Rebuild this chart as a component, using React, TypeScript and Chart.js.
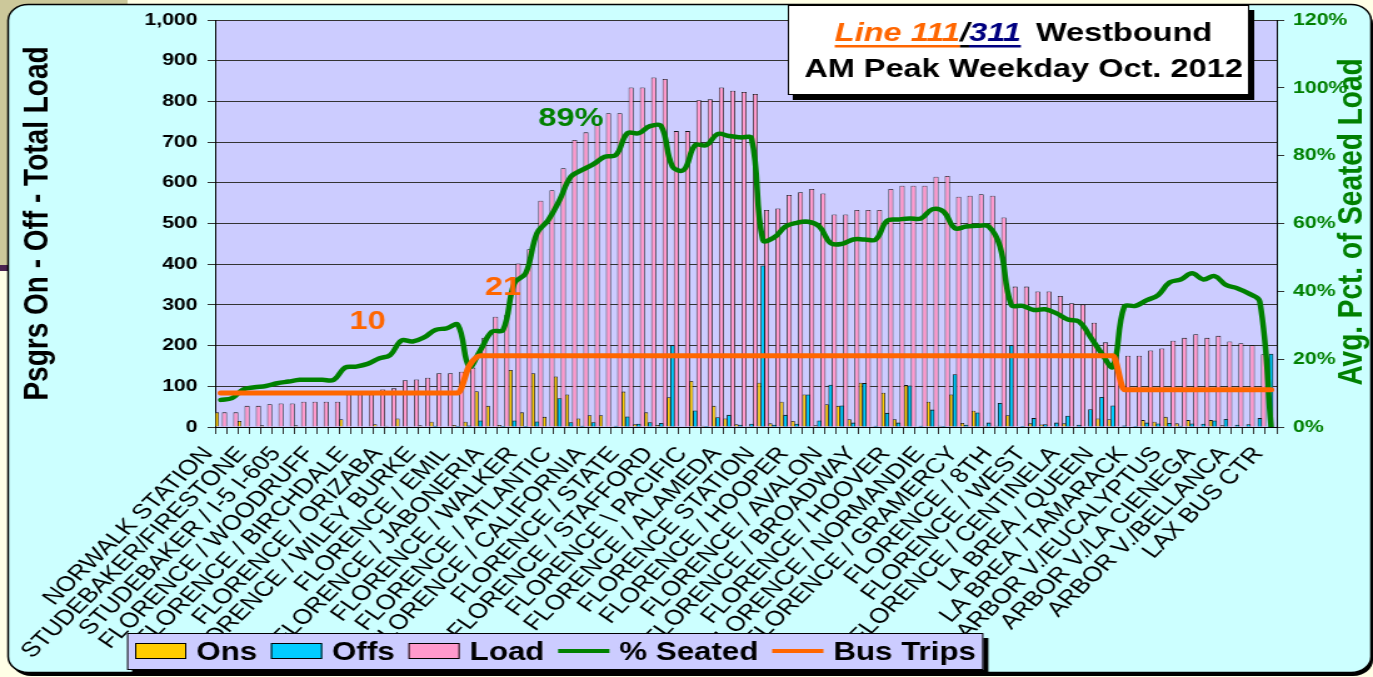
import React, { useEffect, useRef } from 'react';
import { Chart, registerables } from 'chart.js';

Chart.register(...registerables);

// ---------- DATA ----------
const stops = [
  'NORWALK STATION', '', '', 'STUDEBAKER/FIRESTONE', '', '', 'STUDEBAKER / I-5 I-605', '', '',
  'FLORENCE / WOODRUFF', '', '', 'FLORENCE / BIRCHDALE', '', '', 'FLORENCE / ORIZABA', '', '',
  'FLORENCE / WILEY BURKE', '', '', 'FLORENCE / EMIL', '', '', 'FLORENCE / JABONERIA', '', '',
  'FLORENCE / WALKER', '', '', 'FLORENCE / ATLANTIC', '', '', 'FLORENCE / CALIFORNIA', '', '',
  'FLORENCE / STATE', '', '', 'FLORENCE / STAFFORD', '', '', 'FLORENCE \\ PACIFIC', '', '',
  'FLORENCE / ALAMEDA', '', '', 'FLORENCE STATION', '', '', 'FLORENCE / HOOPER', '', '',
  'FLORENCE / AVALON', '', '', 'FLORENCE / BROADWAY', '', '', 'FLORENCE / HOOVER', '', '',
  'FLORENCE / NORMANDIE', '', '', 'FLORENCE / GRAMERCY', '', '', 'FLORENCE / 8TH', '', '',
  'FLORENCE / WEST', '', '', 'FLORENCE / CENTINELA', '', '', 'LA BREA / QUEEN', '', '',
  'LA BREA / TAMARACK', '', '', 'ARBOR V./EUCALYPTUS', '', '', 'ARBOR V./LA CIENEGA', '', '',
  'ARBOR V./BELLANCA', '', '', 'LAX BUS CTR',
];

const ons = [
  36, 0, 15, 0, 4, 2, 0, 4, 0, 0, 0, 19, 0, 0, 7, 3, 21, 2, 4, 13,
  0, 5, 13, 88, 52, 5, 140, 36, 132, 25, 124, 80, 21, 29, 29, 2, 87, 7, 36, 5,
  73, 0, 113, 3, 52, 21, 7, 2, 109, 9, 62, 15, 80, 4, 56, 52, 19, 109, 2, 84,
  19, 103, 2, 62, 3, 80, 10, 40, 3, 3, 29, 1, 9, 6, 0, 9, 2, 0, 21, 19,
  1, 1, 17, 13, 25, 9, 17, 0, 17, 4, 1, 1, 0, 0,
];

const offs = [
  0, 0, 0, 0, 0, 0, 0, 0, 0, 0, 0, 0, 0, 0, 0, 0, 0, 0, 0, 2,
  0, 1, 3, 15, 0, 1, 15, 1, 13, 0, 70, 11, 2, 11, 0, 2, 25, 7, 11, 9,
  200, 0, 40, 1, 23, 29, 5, 7, 396, 5, 29, 7, 79, 15, 103, 52, 10, 107, 2, 34,
  10, 101, 2, 42, 1, 129, 5, 35, 10, 58, 200, 1, 21, 6, 10, 27, 5, 43, 73, 52,
  3, 1, 10, 8, 9, 2, 8, 7, 15, 19, 5, 6, 21, 179,
];

const load = [
  36, 36, 52, 52, 56, 58, 58, 62, 62, 62, 62, 80, 80, 80, 92, 95, 115, 117, 121, 132,
  132, 136, 146, 219, 271, 275, 402, 437, 556, 582, 636, 705, 724, 742, 771, 771, 834, 834, 859, 855,
  727, 727, 803, 805, 834, 826, 823, 818, 533, 537, 570, 577, 585, 574, 522, 522, 533, 533, 533, 585,
  593, 593, 593, 615, 617, 566, 568, 572, 568, 515, 345, 345, 333, 333, 322, 304, 301, 256, 208, 177,
  175, 175, 188, 193, 212, 219, 228, 219, 224, 210, 206, 201, 179, 0,
];

const pctSeated = [
  8.0, 8.5, 11.1, 11.7, 12.1, 12.9, 13.4, 13.9, 13.9, 13.9, 13.9, 17.5, 17.8, 18.6, 20.2, 21.2, 25.5, 25.2, 26.4, 28.6,
  29.1, 30.1, 17.8, 22.7, 28.1, 28.6, 42.4, 45.3, 57.1, 61.0, 66.9, 73.8, 75.8, 77.5, 79.7, 80.2, 86.6, 86.6, 88.7, 88.7,
  76.8, 75.8, 83.1, 83.1, 86.4, 85.8, 85.4, 85.1, 55.1, 55.9, 59.1, 60.2, 60.5, 59.1, 54.2, 54.0, 55.3, 55.3, 55.3, 60.8,
  61.2, 61.5, 61.5, 64.2, 63.5, 58.6, 59.1, 59.3, 59.1, 53.2, 36.0, 35.7, 34.5, 34.7, 33.5, 31.7, 31.1, 26.6, 21.7, 17.8,
  35.5, 35.7, 37.4, 38.9, 42.6, 43.5, 45.3, 43.5, 44.5, 41.9, 40.9, 39.4, 37.0, 0,
];

const busTrips = [
  10, 10, 10, 10, 10, 10, 10, 10, 10, 10, 10, 10, 10, 10, 10, 10, 10, 10, 10, 10,
  10, 10, 18, 21, 21, 21, 21, 21, 21, 21, 21, 21, 21, 21, 21, 21, 21, 21, 21, 21,
  21, 21, 21, 21, 21, 21, 21, 21, 21, 21, 21, 21, 21, 21, 21, 21, 21, 21, 21, 21,
  21, 21, 21, 21, 21, 21, 21, 21, 21, 21, 21, 21, 21, 21, 21, 21, 21, 21, 21, 21,
  11, 11, 11, 11, 11, 11, 11, 11, 11, 11, 11, 11, 11, 11,
];

const seriesNames = ['Ons', 'Offs', 'Load', '% Seated', 'Bus Trips'];
const callouts = [
  { text: '10', index: 13, value: 31, color: '#FF6600' },
  { text: '21', index: 25, value: 41, color: '#FF6600' },
  { text: '89%', index: 31, value: 91, color: '#008000' },
];

// ---------- STYLE ----------
const FONT = "'Liberation Sans', Arial, Helvetica, sans-serif";
const CW = 1098; // internal canvas width (stretched to 1373 on screen)
const CH = 677;
const GREEN = '#008000';
const ORANGE = '#FF6600';

const backgroundPlugin = {
  id: 'slideBackground',
  beforeDraw(chart: any) {
    const { ctx, chartArea } = chart;
    ctx.save();
    ctx.fillStyle = '#FFFFE6';
    ctx.fillRect(0, 0, CW, CH);
    ctx.fillStyle = '#CCC89A';
    ctx.fillRect(0, 0, 102, 268);
    ctx.fillStyle = '#4A2350';
    ctx.fillRect(0, 265, 8, 6);
    ctx.beginPath();
    ctx.roundRect(9, 8, CW - 9, CH - 9, 16);
    ctx.fillStyle = '#000';
    ctx.fill();
    ctx.beginPath();
    ctx.roundRect(6.5, 4.5, CW - 8, CH - 9, 16);
    ctx.fillStyle = '#CCFFFF';
    ctx.fill();
    ctx.lineWidth = 1.5;
    ctx.strokeStyle = '#000';
    ctx.stroke();
    ctx.fillStyle = '#CCCCFF';
    ctx.fillRect(chartArea.left, chartArea.top, chartArea.right - chartArea.left, chartArea.bottom - chartArea.top);
    ctx.restore();
  },
};

const calloutPlugin = {
  id: 'callouts',
  afterDatasetsDraw(chart: any) {
    const { ctx } = chart;
    const xs = chart.scales.x;
    const ys = chart.scales.y1;
    ctx.save();
    ctx.font = `bold 26px ${FONT}`;
    ctx.textAlign = 'center';
    ctx.textBaseline = 'middle';
    callouts.forEach((c) => {
      ctx.fillStyle = c.color;
      ctx.fillText(c.text, xs.getPixelForValue(c.index), ys.getPixelForValue(c.value));
    });
    ctx.restore();
  },
};

const overlayPlugin = {
  id: 'overlay',
  afterDraw(chart: any) {
    const { ctx } = chart;
    ctx.save();
    // ---- title box ----
    const bx0 = 630, by0 = 5, bx1 = 999, by1 = 95;
    ctx.fillStyle = '#000';
    ctx.fillRect(bx0 + 4, by0 + 5, bx1 - bx0, by1 - by0);
    ctx.fillStyle = '#FFFFFF';
    ctx.fillRect(bx0, by0, bx1 - bx0, by1 - by0);
    ctx.strokeStyle = '#000';
    ctx.lineWidth = 1;
    ctx.strokeRect(bx0 + 0.5, by0 + 0.5, bx1 - bx0 - 1, by1 - by0 - 1);
    const cx = (bx0 + bx1) / 2 + 4;
    const it = `italic bold 26px ${FONT}`;
    const bd = `bold 26px ${FONT}`;
    const segs = [
      { t: 'Line 111', f: it, c: ORANGE, u: true, gap: 0 },
      { t: '/', f: it, c: '#000', u: true, gap: 0 },
      { t: '311', f: it, c: '#000080', u: true, gap: 12 },
      { t: 'Westbound', f: bd, c: '#000', u: false, gap: 0 },
    ];
    let total = 0;
    segs.forEach((s) => { ctx.font = s.f; total += ctx.measureText(s.t).width + s.gap; });
    let x = cx - total / 2;
    ctx.textBaseline = 'alphabetic';
    ctx.textAlign = 'left';
    segs.forEach((s) => {
      ctx.font = s.f;
      const w = ctx.measureText(s.t).width;
      ctx.fillStyle = s.c;
      ctx.fillText(s.t, x, 41);
      if (s.u) ctx.fillRect(x, 45, w, 2.5);
      x += w + s.gap;
    });
    ctx.font = bd;
    ctx.fillStyle = '#000';
    ctx.textAlign = 'center';
    ctx.fillText('AM Peak Weekday Oct. 2012', cx, 77);

    // ---- right axis title ----
    ctx.save();
    ctx.translate(1081, 222);
    ctx.rotate(-Math.PI / 2);
    ctx.font = `bold 28px ${FONT}`;
    ctx.fillStyle = GREEN;
    ctx.textAlign = 'center';
    ctx.textBaseline = 'middle';
    ctx.fillText('Avg. Pct. of Seated Load', 0, 0);
    ctx.restore();

    // ---- legend ----
    const lx0 = 101.6, ly0 = 633, ly1 = 670;
    const items = chart.data.datasets.map((d: any) => ({
      label: d.label,
      line: d.type === 'line',
      color: d.type === 'line' ? d.borderColor : d.backgroundColor,
    }));
    ctx.font = `bold 25px ${FONT}`;
    let lw = 6.4;
    items.forEach((i: any, k: number) => {
      lw += 41 + 8 + ctx.measureText(i.label).width + (k < items.length - 1 ? 11 : 6);
    });
    ctx.fillStyle = '#000';
    ctx.fillRect(lx0 + 4, ly0 + 5, lw, ly1 - ly0);
    ctx.fillStyle = '#CCCCFF';
    ctx.fillRect(lx0, ly0, lw, ly1 - ly0);
    ctx.strokeStyle = '#000';
    ctx.lineWidth = 1;
    ctx.strokeRect(lx0 + 0.5, ly0 + 0.5, lw - 1, ly1 - ly0 - 1);
    let px = lx0 + 6.4;
    ctx.textAlign = 'left';
    ctx.textBaseline = 'alphabetic';
    items.forEach((i: any) => {
      if (i.line) {
        ctx.strokeStyle = i.color;
        ctx.lineWidth = 4;
        ctx.beginPath();
        ctx.moveTo(px, 651);
        ctx.lineTo(px + 41, 651);
        ctx.stroke();
      } else {
        ctx.fillStyle = i.color;
        ctx.fillRect(px, 643, 41, 16);
        ctx.strokeStyle = '#000';
        ctx.lineWidth = 1;
        ctx.strokeRect(px + 0.5, 643.5, 40, 15);
      }
      px += 49;
      ctx.fillStyle = '#000';
      ctx.fillText(i.label, px, 660);
      px += ctx.measureText(i.label).width + 11;
    });
    ctx.restore();
  },
};

export default function App() {
  const ref = useRef<HTMLCanvasElement>(null);

  useEffect(() => {
    const canvas = ref.current;
    if (!canvas) return;
    Chart.defaults.font.family = FONT;
    const barBase = { borderColor: '#111', borderWidth: 0.8, categoryPercentage: 1.0, yAxisID: 'y' };
    const chart = new Chart(canvas, {
      type: 'bar',
      data: {
        labels: stops,
        datasets: [
          { ...barBase, label: seriesNames[0], data: ons, backgroundColor: '#FFCC00', barPercentage: 1.05, order: 1 } as any,
          { ...barBase, label: seriesNames[1], data: offs, backgroundColor: '#00CCFF', barPercentage: 1.0, order: 2 } as any,
          { ...barBase, label: seriesNames[2], data: load, backgroundColor: '#FF99CC', barPercentage: 1.35, order: 3 } as any,
          {
            type: 'line', label: seriesNames[3], data: pctSeated, yAxisID: 'y1',
            borderColor: GREEN, backgroundColor: GREEN, borderWidth: 4.5, pointRadius: 0,
            tension: 0.4, borderJoinStyle: 'round', borderCapStyle: 'round', order: 0,
          } as any,
          {
            type: 'line', label: seriesNames[4], data: busTrips, yAxisID: 'y1',
            borderColor: ORANGE, backgroundColor: ORANGE, borderWidth: 5, pointRadius: 0,
            cubicInterpolationMode: 'monotone', borderJoinStyle: 'round', borderCapStyle: 'round', order: -1,
          } as any,
        ],
      },
      options: {
        responsive: false,
        animation: false,
        devicePixelRatio: 1,
        layout: { padding: { top: 20, left: 0, right: 0, bottom: 0 } },
        plugins: { legend: { display: false }, tooltip: { enabled: false } },
        scales: {
          x: {
            offset: true,
            grid: { offset: true, drawOnChartArea: false, tickLength: 7, color: '#333' },
            border: { color: '#000', width: 1 },
            ticks: {
              autoSkip: false, minRotation: 50, maxRotation: 50, padding: 8, labelOffset: -10,
              color: '#000', font: { family: FONT, size: 21 },
            },
            afterFit: (s: any) => { s.height = CH - 427; },
          },
          y: {
            position: 'left', min: 0, max: 1000,
            grid: { color: '#333', tickLength: 6, lineWidth: 1 },
            border: { color: '#000', width: 1 },
            ticks: {
              stepSize: 100, padding: 8, color: '#000',
              font: { family: FONT, size: 17, weight: 'bold' },
              callback: (v: any) => Number(v).toLocaleString('en-US'),
            },
            title: {
              display: true, text: 'Psgrs On - Off - Total Load', color: '#000',
              font: { family: FONT, size: 28, weight: 'bold' }, padding: { top: 13, bottom: 0 },
            },
            afterFit: (s: any) => { s.width = 172; },
          },
          y1: {
            position: 'right', min: 0, max: 120,
            grid: { drawOnChartArea: false, tickLength: 6, color: '#333' },
            border: { color: '#000', width: 1 },
            ticks: {
              stepSize: 20, padding: 7, color: GREEN,
              font: { family: FONT, size: 17, weight: 'bold' },
              callback: (v: any) => `${v}%`,
            },
            afterFit: (s: any) => { s.width = 77; },
          },
        },
      } as any,
      plugins: [backgroundPlugin, calloutPlugin, overlayPlugin],
    });
    return () => chart.destroy();
  }, []);

  return (
    <div style={{ position: 'fixed', left: 0, top: 0, width: 1373, height: 677, overflow: 'hidden' }}>
      <canvas
        ref={ref}
        width={CW}
        height={CH}
        style={{ width: '1373px', height: '677px', display: 'block' }}
      />
    </div>
  );
}
